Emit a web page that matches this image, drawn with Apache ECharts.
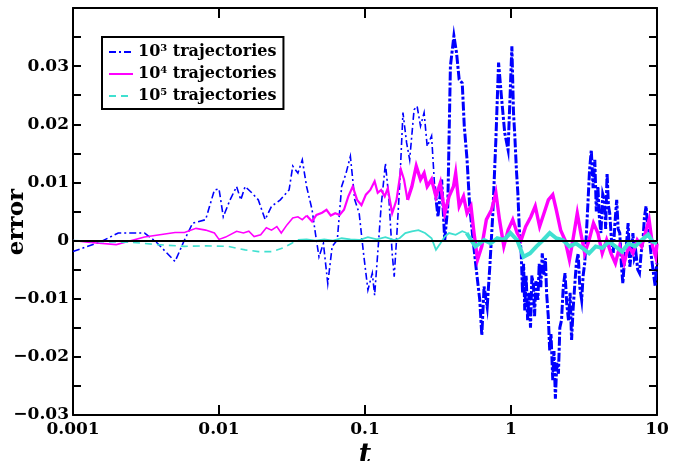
<!DOCTYPE html>
<html>
<head>
<meta charset="utf-8">
<script src="https://cdn.jsdelivr.net/npm/echarts@6/dist/echarts.min.js"></script>
<style>html,body{margin:0;padding:0;background:#fff}#c{width:683px;height:461px}</style>
</head>
<body>
<div id="c"></div>
<script>
const xTickLabels = ['0.001','0.01','0.1','1','10'];
const yTickLabels = ['\u22120.03','\u22120.02','\u22120.01','0','0.01','0.02','0.03',''];
const seriesNames = {n3:'10{sup|3} trajectories', n4:'10{sup|4} trajectories', n5:'10{sup|5} trajectories'};

const blueT = [0.001,0.00155,0.00204,0.00309,0.0037,0.005,0.0058,0.0066,0.0081,0.0093,0.01,0.0107,0.0119,0.0132,0.0141,0.0151,0.0168,0.0186,0.0207,0.0229,0.0263,0.0302,0.032,0.0347,0.0372,0.0398,0.0434,0.0457,0.0484,0.0519,0.0556,0.0596,0.0646,0.0692,0.0742,0.0794,0.0851,0.0912,0.0977,0.1047,0.1122,0.1164,0.1222,0.129,0.138,0.146,0.1535,0.1585,0.1644,0.1726,0.182,0.1928,0.2023,0.2168,0.2275,0.24,0.254,0.2667,0.2858,0.2999,
0.3162,0.335,0.3516,0.369,0.3846,0.4064,0.4236,0.4416,0.4634,0.4786,0.5,0.5212,0.55,0.582,0.611,0.631,0.654,0.687,0.716,0.751,0.788,0.822,0.863,0.906,0.955,
1.014,1.04,1.062,1.09,1.114,1.14,1.175,1.2,1.22,1.242,1.27,1.3,1.33,1.36,1.39,1.426,1.45,1.48,1.528,1.56,1.6,1.637,1.68,1.72,1.754,1.8,1.841,1.88,1.932,1.97,2.014,2.06,2.113,2.16,2.218,2.28,2.344,2.41,2.477,2.54,2.6,2.66,2.729,2.8,2.884,2.96,3.048,3.12,3.199,3.28,3.357,3.45,3.548,3.65,3.75,3.84,3.936,4.03,4.13,4.25,4.365,4.45,4.55,4.65,4.743,4.88,5.012,5.15,5.297,5.42,5.559,5.7,5.834,6.0,6.166,6.34,6.516,6.68,6.84,7.0,7.178,7.38,7.586,7.8,8.017,8.2,8.414,8.6,8.83,9.07,9.333,9.5,9.727,9.86,10];
const blueErr = [-0.0019,-0.0002,0.0013,0.0013,-0.0002,-0.0036,0.0001,0.003,0.0036,0.0087,0.0089,0.0041,0.007,0.0093,0.007,0.0093,0.0082,0.007,0.0036,0.0059,0.007,0.0087,0.0128,0.0116,0.0139,0.0093,0.0053,0.0013,-0.0028,-0.0005,-0.0074,-0.001,0.0001,0.0093,0.0116,0.0145,0.007,0.0047,-0.0022,-0.0085,-0.0056,-0.0094,-0.0022,0.0059,0.0133,0.007,-0.0022,-0.0062,0.0001,0.0093,0.022,0.0168,0.0139,0.0225,0.0231,0.0197,0.022,0.0162,0.018,0.0093,
0.0041,0.0105,0.0001,0.0059,0.03,0.0352,0.0323,0.0277,0.0271,0.0197,0.0139,0.0059,0.0001,-0.0056,-0.0102,-0.0163,-0.0079,-0.0114,-0.0045,0.0047,0.0174,0.0306,0.0243,0.0185,0.0156,
0.0334,0.022,0.018,0.012,0.0082,0.002,-0.0022,-0.009,-0.004,-0.012,-0.006,-0.0137,-0.009,-0.015,-0.006,-0.0079,-0.013,-0.007,-0.0102,-0.004,-0.008,-0.0022,-0.006,-0.003,-0.0091,-0.013,-0.0189,-0.016,-0.024,-0.019,-0.0272,-0.021,-0.0229,-0.015,-0.0137,-0.008,-0.0056,-0.011,-0.0137,-0.009,-0.0171,-0.012,-0.0079,-0.004,-0.0022,-0.008,-0.0102,-0.006,-0.0039,0.001,0.0059,0.012,0.0156,0.009,0.0139,0.005,0.0093,0.004,0.0013,0.008,0.007,0.002,0.0116,0.006,0.0047,0,-0.0022,0.003,0.007,0.002,0.0013,-0.004,-0.0074,-0.003,-0.001,0.003,-0.0045,-0.002,0.0013,-0.003,-0.0022,-0.005,-0.0056,-0.002,0.0001,0.004,0.0059,0.003,0.0013,-0.002,-0.0045,-0.006,-0.0079,-0.005,-0.0039];

const magT = [0.001,0.00126,0.00198,0.00309,0.005,0.0058,0.00696,0.0081,0.0093,0.01,0.0111,0.0132,0.0147,0.016,0.0174,0.0193,0.0211,0.0229,0.0249,0.0267,0.0292,0.032,0.0347,0.0372,0.0398,0.0434,0.0465,0.0508,0.0545,0.0583,0.0625,0.067,0.0718,0.0769,0.0824,0.0883,0.0946,0.1014,0.1087,0.1164,0.1222,0.129,0.1365,0.1432,0.1535,0.1644,0.1762,0.185,0.1954,0.2094,0.2244,0.24,0.254,0.2667,0.2858,0.3062,0.328,0.3516,0.3767,0.4036,0.4178,0.4416,0.473,0.5,0.532,0.558,0.59,0.631,0.678,0.736,0.788,0.834,0.893,0.955,1.028,1.102,1.175,1.259,1.368,1.466,1.57,1.683,1.803,1.932,2.042,2.188,2.344,2.512,2.655,2.844,3.006,3.199,3.428,3.673,3.936,4.217,4.519,4.842,5.188,5.559,5.957,6.383,6.84,7.328,7.852,8.414,8.83,9.333,9.795,10];
const magErr = [0,-0.0003,-0.0007,0.0006,0.0014,0.0014,0.0021,0.0018,0.0013,0.0002,0.0006,0.0016,0.0013,0.0016,0.0007,0.001,0.0022,0.0018,0.0024,0.0013,0.0027,0.0039,0.0041,0.0036,0.0043,0.0033,0.0044,0.0048,0.0053,0.0043,0.0047,0.0044,0.0053,0.0076,0.0093,0.007,0.0061,0.0079,0.0087,0.0102,0.0082,0.0087,0.0076,0.009,0.0047,0.007,0.0122,0.0105,0.007,0.0093,0.0128,0.0105,0.0116,0.0093,0.0105,0.0076,0.0099,0.0047,0.0076,0.0093,0.0116,0.0059,0.0076,0.0047,0.0059,0.0013,-0.0033,-0.001,0.0036,0.0053,0.0082,0.0036,-0.001,0.0018,0.0036,0.0013,0.0001,0.0024,0.0041,0.0059,0.0024,0.0047,0.007,0.0079,0.0053,0.0018,0.0001,-0.0033,0.0001,0.0047,0.0013,-0.0022,0.0001,0.003,0.0013,-0.0022,0.0001,-0.0022,-0.0039,-0.001,-0.0039,-0.001,-0.0022,0.0001,-0.001,0.0018,0.0036,-0.001,-0.0028,-0.0005];

const cyanT = [0.001,0.00155,0.00251,0.0038,0.0058,0.0081,0.0115,0.0151,0.0186,0.0229,0.0273,0.0313,0.0347,0.0398,0.0457,0.0526,0.0604,0.0692,0.0794,0.0912,0.1047,0.1205,0.138,0.1585,0.1726,0.1888,0.2094,0.2323,0.2576,0.2858,0.3062,0.328,0.3516,0.3767,0.4178,0.4634,0.4966,0.532,0.57,0.611,0.654,0.726,0.805,0.893,0.991,1.102,1.219,1.349,1.496,1.66,1.841,2.042,2.265,2.512,2.786,3.09,3.428,3.802,4.217,4.677,5.188,5.754,6.383,7.079,7.852,8.71,9.333,10];
const cyanErr = [0,-0.0002,-0.0003,-0.0007,-0.001,-0.0009,-0.001,-0.0016,-0.0019,-0.0019,-0.0013,-0.0005,0.0001,0.0002,0,0.0002,0,0.0004,0.0002,0.0001,0.0006,0.0002,0.0006,0.0001,0.0004,0.0013,0.0016,0.0018,0.0013,0.0004,-0.0016,-0.0005,0.0007,0.0013,0.001,0.0016,0.0013,0.0001,-0.001,-0.0005,0.0001,-0.0005,0.0004,0.0001,0.0013,0.0001,-0.0028,-0.0022,-0.001,0.0001,0.0013,0.0004,0.0001,-0.001,-0.0005,-0.0013,-0.0022,-0.001,-0.0013,-0.0002,-0.001,-0.0019,-0.0005,-0.001,0.0001,0.001,-0.0002,-0.0005];

const BLUE = '#0000ff', MAG = '#ff00ff', CYAN = '#40e0d0';
const SERIF = '"DejaVu Serif", serif';

function piece(T, E, lo, hi) {
  const out = [];
  for (let i = 0; i < T.length; i++) if (T[i] >= lo && T[i] <= hi) out.push([T[i], E[i]]);
  return out;
}
function line(name, data, color, width, type, z) {
  return { name, type: 'line', data, symbol: 'none', showSymbol: false, smooth: false, sampling: null, z,
    lineStyle: { color, width, type, join: 'miter', cap: 'butt' }, itemStyle: { color }, emphasis: { disabled: true } };
}

const chart = echarts.init(document.getElementById('c'), null, { renderer: 'canvas' });
const tickStyle = { color: '#000', width: 2 };
chart.setOption({
  animation: false,
  backgroundColor: '#fff',
  grid: { left: 73, right: 26, top: 8, bottom: 46, containLabel: false, outerBoundsMode: 'none' },
  graphic: [{
    type: 'text', x: 17, y: 222, rotation: Math.PI / 2, z: 10,
    style: { text: 'error', fontFamily: SERIF, fontWeight: 'bold', fontSize: 23, fill: '#000', align: 'center', verticalAlign: 'middle' }
  }],
  legend: {
    data: ['n3', 'n4', 'n5'],
    orient: 'vertical', left: 102, top: 37,
    padding: [6, 7, 4, 6], itemGap: 4, itemWidth: 24, itemHeight: 14,
    borderColor: '#000', borderWidth: 2, backgroundColor: '#fff',
    itemStyle: { opacity: 0 },
    formatter: n => seriesNames[n],
    textStyle: { fontFamily: SERIF, fontWeight: 'bold', fontSize: 16, color: '#000', lineHeight: 18,
      rich: { sup: { fontFamily: SERIF, fontWeight: 'bold', fontSize: 10, color: '#000', lineHeight: 12, verticalAlign: 'top' } } }
  },
  xAxis: [{
    type: 'log', logBase: 10, min: 0.001, max: 10, position: 'bottom',
    axisLine: { show: true, onZero: false, lineStyle: tickStyle },
    axisTick: { show: true, inside: true, length: 10, lineStyle: tickStyle },
    splitLine: { show: false },
    axisLabel: { margin: 6, fontFamily: SERIF, fontWeight: 'bold', fontSize: 17, color: '#000',
      formatter: v => xTickLabels[Math.round(Math.log10(v)) + 3] },
    name: 't', nameLocation: 'middle', nameGap: 24,
    nameTextStyle: { fontFamily: SERIF, fontStyle: 'italic', fontWeight: 'bold', fontSize: 27, color: '#000' }
  }, {
    type: 'log', logBase: 10, min: 0.001, max: 10, position: 'top',
    axisLine: { show: true, onZero: false, lineStyle: tickStyle },
    axisTick: { show: true, inside: true, length: 10, lineStyle: tickStyle },
    axisLabel: { show: false }, splitLine: { show: false }
  }],
  yAxis: [{
    type: 'value', min: -0.03, max: 0.04, interval: 0.01, position: 'left',
    axisLine: { show: true, onZero: false, lineStyle: tickStyle },
    axisTick: { show: true, inside: true, length: 8, lineStyle: tickStyle },
    minorTick: { show: true, splitNumber: 2, length: 8, lineStyle: tickStyle },
    splitLine: { show: false },
    axisLabel: { margin: 4, showMaxLabel: false, fontFamily: SERIF, fontWeight: 'bold', fontSize: 17, color: '#000',
      formatter: v => yTickLabels[Math.round(v * 100) + 3] }
  }, {
    type: 'value', min: -0.03, max: 0.04, interval: 0.01, position: 'right',
    axisLine: { show: true, onZero: false, lineStyle: tickStyle },
    axisTick: { show: true, inside: true, length: 8, lineStyle: tickStyle },
    minorTick: { show: true, splitNumber: 2, length: 8, lineStyle: tickStyle },
    splitLine: { show: false }, axisLabel: { show: false }
  }],
  series: [
    { name: 'zero', type: 'line', data: [], z: 1, silent: true,
      markLine: { silent: true, symbol: 'none', label: { show: false },
        lineStyle: { color: '#000', width: 2, type: 'solid' }, data: [{ yAxis: 0 }] } },
    line('n3', piece(blueT, blueErr, 0, 0.3), BLUE, 1.6, [7, 3, 2, 3], 2),
    line('b3', piece(blueT, blueErr, 0.2999, 10), BLUE, 3, [9, 2, 3, 2], 2),
    line('n4', piece(magT, magErr, 0, 0.0398), MAG, 1.6, 'solid', 3),
    line('m4', piece(magT, magErr, 0.0398, 0.1954), MAG, 2.2, 'solid', 3),
    line('mm4', piece(magT, magErr, 0.1954, 10), MAG, 3.4, 'solid', 3),
    line('n5', piece(cyanT, cyanErr, 0, 0.0347), CYAN, 1.6, [7, 5], 4),
    line('c5', piece(cyanT, cyanErr, 0.0347, 0.4966), CYAN, 1.8, 'solid', 4),
    line('cc5', piece(cyanT, cyanErr, 0.4966, 10), CYAN, 4, 'solid', 4)
  ]
});
</script>
</body>
</html>
